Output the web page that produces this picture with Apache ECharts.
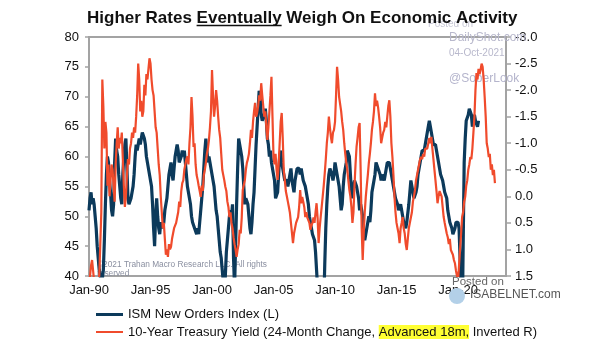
<!DOCTYPE html>
<html>
<head>
<meta charset="utf-8">
<script src="https://cdn.jsdelivr.net/npm/echarts@6/dist/echarts.min.js"></script>
<style>
html,body{margin:0;padding:0;background:#fff;}
#chart{width:605px;height:341px;}
</style>
</head>
<body>
<div id="chart"></div>
<script>
// ---- data (monthly, starting Jan-1990) ----
const startYear = 1990;
const stepMonths = 1;
const xTickYears = [1990, 1995, 2000, 2005, 2010, 2015, 2020];

// ISM New Orders Index (left axis), Jan-1990 .. Sep-2021
const ismNewOrders = [
  51, 53, 54, 52, 53, 52, 50, 48, 45, 43, 41, 40,
  38, 38, 41, 46, 52, 57, 60, 59, 56, 54, 51, 50,
  52, 59, 63, 61, 60, 57, 55, 53, 52, 57, 60, 62,
  63, 58, 53, 52, 52, 53, 53, 55, 57, 60, 62, 61,
  62, 63, 62, 63, 64, 64, 63, 62, 60, 59, 58, 57,
  56, 55, 52, 48, 45, 50, 53, 50, 48, 47, 49, 49,
  48, 49, 51, 52, 53, 55, 57, 58, 59, 57, 56, 58,
  60, 61, 62, 61, 59, 59, 60, 61, 60, 61, 59, 57,
  55, 54, 53, 52, 50, 49, 49, 48, 48, 47, 48, 47,
  49, 51, 53, 55, 58, 61, 63, 61, 59, 60, 59, 58,
  57, 56, 55, 53, 51, 50, 48, 46, 44, 43, 41, 39,
  37, 40, 44, 46, 48, 50, 51, 50, 52, 43, 38, 45,
  52, 58, 63, 62, 61, 60, 58, 55, 52, 53, 53, 52,
  50, 48, 47, 49, 52, 54, 58, 62, 65, 68, 71, 70,
  67, 66, 66, 67, 68, 66, 63, 62, 60, 61, 59, 59,
  57, 56, 53, 53, 54, 57, 60, 61, 59, 58, 57, 56,
  56, 56, 55, 56, 57, 58, 56, 55, 54, 56, 57, 58,
  58, 58, 57, 58, 57, 56, 56, 55, 55, 53, 52, 50,
  49, 48, 47, 47, 46, 44, 41, 38, 35, 30, 28, 27,
  30, 35, 42, 48, 52, 55, 57, 58, 58, 57, 56, 57,
  59, 58, 57, 56, 55, 53, 51, 52, 55, 57, 58, 59,
  61, 61, 60, 57, 54, 53, 55, 56, 56, 55, 54, 53,
  51, 52, 52, 50, 47, 46, 47, 48, 49, 50, 49, 51,
  54, 55, 56, 57, 59, 59, 58, 58, 57, 56, 57, 57,
  56, 57, 58, 59, 59, 59, 58, 57, 56, 55, 54, 53,
  53, 52, 51, 51, 52, 51, 50, 49, 49, 48, 49, 49,
  52, 54, 56, 55, 54, 53, 53, 54, 55, 57, 58, 59,
  60, 61, 61, 61, 62, 63, 64, 65, 66, 65, 64, 63,
  62, 62, 62, 61, 60, 59, 58, 57, 57, 56, 55, 54,
  54, 53, 51, 50, 49, 49, 48, 47, 47, 48, 49, 49,
  49, 48, 43, 35, 30, 45, 59, 63, 66, 66, 67, 68,
  68, 67, 65, 66, 67, 66, 66, 65, 66
];

// 10-Year Treasury Yield, 24-month change, advanced 18m (right axis, inverted), Jan-1990 .. Jan-2023
const yieldChange = [
  1.7, 1.5, 1.3, 1.2, 1.4, 1.6, 1.7, 1.8, 1.7, 1.6, 1.5, 0.9,
  0.3, -2.2, -1.7, -0.9, -1.4, -1.2, -0.2, -0.6, 0.0, -0.3, -0.6, -0.5,
  -0.2, 0.1, -0.6, -1.0, -1.3, -0.9, -1.1, -1.0, -1.2, -0.7, -0.2, 0.2,
  0.0, -0.4, -0.7, -0.6, -0.9, -1.0, -1.2, -1.1, -1.3, -1.2, -1.5, -1.9,
  -2.5, -2.2, -1.6, -1.8, -1.5, -1.6, -2.1, -1.9, -2.3, -2.2, -2.4, -2.6,
  -2.5, -2.2, -2.0, -1.9, -1.6, -1.3, -1.2, -0.9, -0.6, -0.4, 0.0, 0.3,
  0.6, 0.5, 0.8, 1.1, 1.0, 1.14, 0.9, 1.0, 0.95, 0.8, 0.7, 0.6,
  0.6, 0.5, 0.4, 0.3, 0.1, 0.2, -0.1, -0.25, -0.3, -0.5, -0.6, -0.7,
  -0.75, -0.6, -1.0, -1.3, -1.87, -1.5, -0.93, -1.0, -0.6, -0.4, -0.31, -0.2,
  -0.1, 0.01, -0.2, -0.1, -0.4, -0.5, -0.63, -0.8, -0.9, -1.06, -1.3, -1.6,
  -2.38, -1.9, -1.5, -1.7, -2.0, -1.8, -1.5, -1.25, -1.1, -0.8, -0.5, -0.4,
  -0.3, -0.18, -0.1, 0.1, 0.2, 0.39, 0.3, 0.5, 0.6, 0.77, 0.9, 1.0,
  1.14, 1.0, 0.9, 0.63, 0.7, 0.4, -0.12, -0.1, -0.3, -0.5, -0.63, -0.7,
  -0.8, -1.0, -1.25, -1.1, -1.4, -1.6, -1.76, -1.5, -1.57, -1.7, -1.9, -1.8,
  -2.13, -1.9, -1.7, -1.5, -1.6, -1.3, -1.06, -1.3, -1.6, -1.9, -2.25, -1.5,
  -0.74, -0.6, -0.8, -0.5, -0.31, -0.6, -1.0, -1.4, -1.57, -1.1, -0.5, -0.31,
  -0.1, 0.0, 0.1, 0.2, 0.31, 0.5, 0.5, 0.88, 0.7, 0.6, 0.5, 0.5,
  0.39, 0.2, -0.12, 0.13, 0.01, 0.1, 0.2, 0.39, 0.3, 0.4, 0.39, 0.5,
  0.63, 0.55, 0.5, 0.4, 0.5, 0.3, 0.13, 0.4, 0.88, 0.6, 0.39, 0.2,
  0.0, -0.2, -0.44, -0.7, -1.0, -1.2, -1.5, -1.3, -1.12, -1.0, -1.2, -1.25,
  -1.4, -1.9, -2.44, -2.2, -1.87, -1.9, -1.6, -1.4, -1.25, -1.0, -0.8, -0.63,
  -0.5, -0.3, -0.12, 0.0, 0.2, 0.5, 0.3, -0.2, -0.6, -0.93, -1.1, -1.3,
  -1.38, -0.5, 0.6, 1.2, 0.7, 0.3, 0.01, -0.2, -0.4, -0.63, -0.8, -1.0,
  -1.25, -1.4, -1.6, -1.94, -1.7, -1.8, -1.68, -1.5, -1.3, -1.0, -1.1, -1.2,
  -1.25, -1.4, -1.3, -1.5, -1.7, -1.81, -1.5, -1.0, -0.74, -0.4, 0.0, 0.3,
  0.5, 0.6, 0.7, 0.88, 0.6, 0.5, 0.39, 0.6, 0.7, 0.9, 1.01, 0.8,
  0.6, 0.5, 0.4, 0.3, 0.1, 0.0, -0.12, -0.3, -0.4, -0.5, -0.6, -0.7,
  -0.74, -0.7, -0.8, -0.75, -0.9, -0.87, -0.9, -1.0, -1.1, -1.0, -1.12, -0.9,
  -0.7, -0.5, -0.3, -0.1, 0.13, 0.0, -0.1, -0.12, 0.0, 0.2, 0.39, 0.5,
  0.6, 0.7, 0.77, 0.9, 0.8, 1.01, 1.0, 1.1, 1.2, 1.26, 1.4, 1.5,
  1.6, 1.3, 1.0, 0.7, 0.39, 0.3, 0.1, 0.01, -0.2, -0.3, -0.5, -0.6,
  -0.74, -0.7, -0.9, -1.2, -1.5, -2.0, -2.32, -2.2, -2.4, -2.3, -2.38, -2.5,
  -2.44, -2.2, -1.87, -1.5, -1.0, -0.9, -0.74, -0.8, -0.5, -0.6, -0.4, -0.5,
  -0.25
];

const seriesNames = [
  'ISM New Orders Index (L)',
  '10-Year Treasury Yield (24-Month Change, Advanced 18m, Inverted R)'
];
const titleParts = ['Higher Rates ', 'Eventually', ' Weigh On Economic Activity'];

// ---- build ----
function toPairs(arr) {
  return arr.map((v, i) => [startYear + i * stepMonths / 12, v]);
}
const BLUE = '#0c3a5b';
const RED = '#f04b2c';
const FONT = '"Liberation Sans", Arial, sans-serif';
const titleFont = 'bold 17px ' + FONT;
const titleLeft = 87;

const ctx = document.createElement('canvas').getContext('2d');
ctx.font = titleFont;
const ulStart = titleLeft + ctx.measureText(titleParts[0]).width;
const ulWidth = ctx.measureText(titleParts[1]).width;

const chart = echarts.init(document.getElementById('chart'), null, {renderer: 'canvas'});
const labelFont = {fontFamily: FONT, fontSize: 13, color: '#111'};

function legendFor(idx, top, color, thick) {
  return {
    orient: 'horizontal', left: 91, top: top, itemGap: 4,
    itemWidth: 27, itemHeight: thick, icon: 'rect',
    textStyle: Object.assign({}, labelFont, {
      rich: {hl: {backgroundColor: '#ffff33', fontSize: 13, color: '#111', fontFamily: FONT, padding: [1, 0, 0, 0]}}
    }),
    formatter: name => name === seriesNames[1]
      ? '10-Year Treasury Yield (24-Month Change, {hl|Advanced 18m,} Inverted R)' : name,
    data: [{name: seriesNames[idx], itemStyle: {color: color}}]
  };
}
const wm = (text, x, y, size, fill) => ({
  type: 'text', x: x, y: y, z: 1,
  style: {text: text, fill: fill, font: size + 'px ' + FONT, verticalAlign: 'middle'}
});

chart.setOption({
  backgroundColor: '#fff',
  animation: false,
  grid: {left: 89, right: 99, top: 37, bottom: 65, show: true, borderColor: '#a3a3a3', borderWidth: 2},
  xAxis: {
    type: 'value', min: 1990, max: 2023.9, interval: 5,
    axisLine: {show: false}, axisTick: {show: false}, splitLine: {show: false},
    axisLabel: Object.assign({}, labelFont, {
      margin: 8,
      formatter: v => xTickYears.indexOf(Math.round(v)) >= 0 && Math.abs(v - Math.round(v)) < 1e-6
        ? 'Jan-' + String(Math.round(v) % 100).padStart(2, '0') : ''
    })
  },
  yAxis: [
    {
      type: 'value', min: 40, max: 80, interval: 5, position: 'left',
      axisLine: {show: false}, splitLine: {show: false},
      axisTick: {show: true, length: 4, lineStyle: {color: '#a3a3a3', width: 1.5}},
      axisLabel: Object.assign({}, labelFont, {margin: 10})
    },
    {
      type: 'value', min: -3, max: 1.5, interval: 0.5, inverse: true, position: 'right',
      axisLine: {show: false}, splitLine: {show: false},
      axisTick: {show: true, length: 5, lineStyle: {color: '#a3a3a3', width: 1.5}},
      axisLabel: Object.assign({}, labelFont, {margin: 9, formatter: v => v.toFixed(1)})
    }
  ],
  legend: [legendFor(0, 303, BLUE, 3), legendFor(1, 320, RED, 2)],
  graphic: [
    wm('Posted on', 428, 24, 10, '#c8c8d6'),
    wm('DailyShot.com', 449, 38, 12, '#b8b8cc'),
    wm('04-Oct-2021', 449, 53, 10, '#b8b8cc'),
    wm('@SoberLook', 449, 79, 12, '#b4b4cc'),
    wm('\u00a92021 Trahan Macro Research LLC. All rights', 97, 265, 8.3, '#8a8fa0'),
    wm('reserved', 97, 274, 8.3, '#8a8fa0'),
    {type: 'circle', z: 1, shape: {cx: 457, cy: 296, r: 8}, style: {fill: '#b3d0e8'}},
    wm('Posted on', 452, 282, 11.5, '#666'),
    wm('ISABELNET.com', 470, 295, 12, '#555'),
    {type: 'text', x: titleLeft, y: 18, z: 10,
     style: {text: titleParts.join(''), font: titleFont, fill: '#111', verticalAlign: 'middle', align: 'left'}},
    {type: 'line', z: 10, shape: {x1: ulStart, y1: 25.5, x2: ulStart + ulWidth, y2: 25.5}, style: {stroke: '#111', lineWidth: 1.5}}
  ],
  series: [
    {
      name: seriesNames[0], type: 'line', yAxisIndex: 0, data: toPairs(ismNewOrders),
      showSymbol: false, symbol: 'none', clip: true,
      lineStyle: {color: BLUE, width: 3.2}, itemStyle: {color: BLUE}, z: 2
    },
    {
      name: seriesNames[1], type: 'line', yAxisIndex: 1, data: toPairs(yieldChange),
      showSymbol: false, symbol: 'none', clip: true,
      lineStyle: {color: RED, width: 2.2}, itemStyle: {color: RED}, z: 3
    }
  ]
});
</script>
</body>
</html>
